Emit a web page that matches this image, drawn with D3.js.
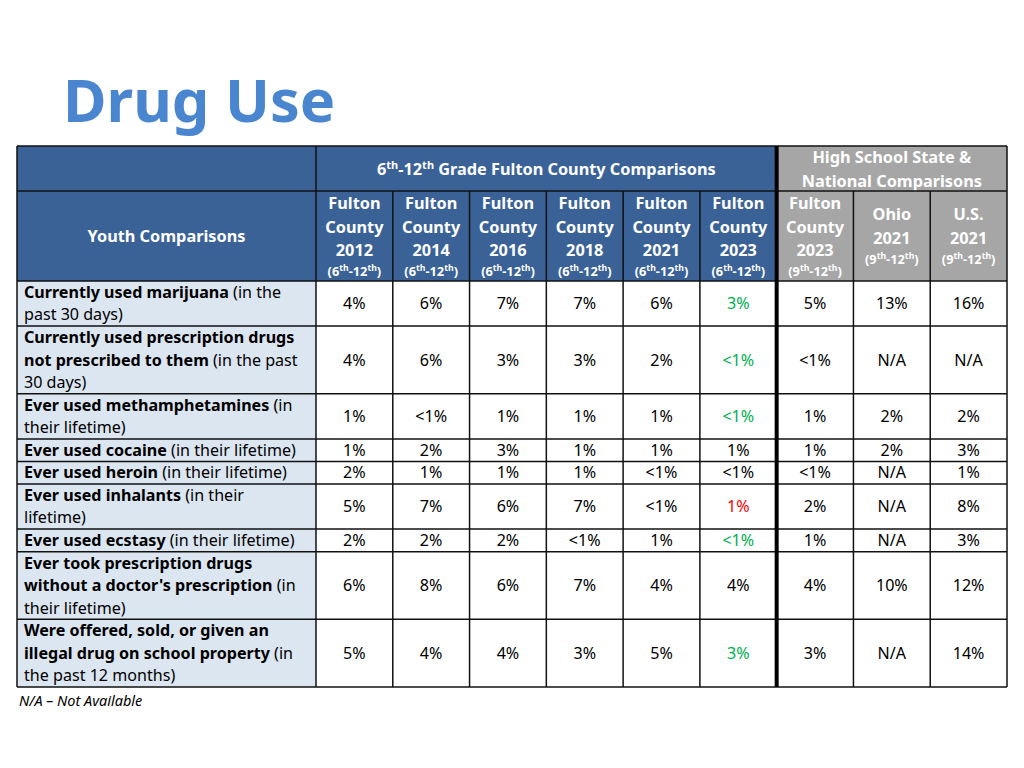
<!DOCTYPE html>
<html><head><meta charset="utf-8">
<script src="https://cdn.jsdelivr.net/npm/d3@7"></script>
<style>
html,body{margin:0;padding:0;background:#fff;}
svg{display:block;font-family:"Noto Sans","Open Sans",sans-serif;}
</style></head>
<body>
<svg id="chart" width="1024" height="768"></svg>
<script>
// ---------- DATA ----------
const titleText = "Drug Use";
const groupLeft = "6th-12th Grade Fulton County Comparisons";
const groupRight = ["High School State &", "National Comparisons"];
const stubHeader = "Youth Comparisons";
const footnote = "N/A – Not Available";

const columnKeys = ["fc2012","fc2014","fc2016","fc2018","fc2021","fc2023","fc2023hs","ohio2021","us2021"];
const columnTitles = [
  ["Fulton","County","2012"],["Fulton","County","2014"],["Fulton","County","2016"],
  ["Fulton","County","2018"],["Fulton","County","2021"],["Fulton","County","2023"],
  ["Fulton","County","2023"],["Ohio","2021"],["U.S.","2021"]
];
const columnGrades = [["6","12"],["6","12"],["6","12"],["6","12"],["6","12"],["6","12"],["9","12"],["9","12"],["9","12"]];

// row labels: each line is a list of [bold?, text]
const rowLabels = [
  [[[1,"Currently used marijuana"],[0," (in the"]],[[0,"past 30 days)"]]],
  [[[1,"Currently used prescription drugs"]],[[1,"not prescribed to them"],[0," (in the past"]],[[0,"30 days)"]]],
  [[[1,"Ever used methamphetamines"],[0," (in"]],[[0,"their lifetime)"]]],
  [[[1,"Ever used cocaine"],[0," (in their lifetime)"]]],
  [[[1,"Ever used heroin"],[0," (in their lifetime)"]]],
  [[[1,"Ever used inhalants"],[0," (in their"]],[[0,"lifetime)"]]],
  [[[1,"Ever used ecstasy"],[0," (in their lifetime)"]]],
  [[[1,"Ever took prescription drugs"]],[[1,"without a doctor's prescription"],[0," (in"]],[[0,"their lifetime)"]]],
  [[[1,"Were offered, sold, or given an"]],[[1,"illegal drug on school property"],[0," (in"]],[[0,"the past 12 months)"]]]
];

const fc2012   = ["4%","4%","1%","1%","2%","5%","2%","6%","5%"];
const fc2014   = ["6%","6%","<1%","2%","1%","7%","2%","8%","4%"];
const fc2016   = ["7%","3%","1%","3%","1%","6%","2%","6%","4%"];
const fc2018   = ["7%","3%","1%","1%","1%","7%","<1%","7%","3%"];
const fc2021   = ["6%","2%","1%","1%","<1%","<1%","1%","4%","5%"];
const fc2023   = ["3%","<1%","<1%","1%","<1%","1%","<1%","4%","3%"];
const fc2023hs = ["5%","<1%","1%","1%","<1%","2%","1%","4%","3%"];
const ohio2021 = ["13%","N/A","2%","2%","N/A","N/A","N/A","10%","N/A"];
const us2021   = ["16%","N/A","2%","3%","1%","8%","3%","12%","14%"];
// change status of the 2023 county values
const fc2023Status = ["better","better","better","","","worse","better","","better"];

// ---------- RENDER ----------
const values = {fc2012,fc2014,fc2016,fc2018,fc2021,fc2023,fc2023hs,ohio2021,us2021};
const statusColor = {better:"#00B050", worse:"#FF0000", "":"#000"};
const BLUE = "#3A6297", GRAY = "#A6A6A6", STUB = "#DCE6F1";
const FS = 16.1, HFS = 16.3;

const svg = d3.select("#chart");
const tableL = 17, stubR = 316, tableR = 1007;
const h1Top = 146, h2Top = 191, bodyTop = 281, bodyBot = 687;

const x = d3.scaleBand().domain(columnKeys).range([stubR, tableR]).paddingInner(0).paddingOuter(0);
const rowLines = rowLabels.map(r => r.length);
const cum = d3.cumsum([0, ...rowLines]);
const y = d3.scaleLinear().domain([0, d3.sum(rowLines)]).range([bodyTop, bodyBot]);
const lineH = y(1) - y(0);
const divX = x("fc2023hs");

// Title
svg.append("text").attr("x", 63).attr("y", 122)
  .attr("font-size", 59.5).attr("font-weight", 700).attr("fill", "#4A86D0")
  .text(titleText);

// header backgrounds
svg.append("rect").attr("x", tableL).attr("y", h1Top).attr("width", divX - tableL).attr("height", bodyTop - h1Top).attr("fill", BLUE);
svg.append("rect").attr("x", divX).attr("y", h1Top).attr("width", tableR - divX).attr("height", bodyTop - h1Top).attr("fill", GRAY);
// stub background
svg.append("rect").attr("x", tableL).attr("y", bodyTop).attr("width", stubR - tableL).attr("height", bodyBot - bodyTop).attr("fill", STUB);

// helper for "6th-12th" style text
function gradeText(sel, a, size) {
  const sup = size * 0.68, d = size * 0.36;
  sel.append("tspan").text("(" + a);
  sel.append("tspan").attr("font-size", sup).attr("dy", -d).text("th");
  sel.append("tspan").attr("dy", d).text("-12");
  sel.append("tspan").attr("font-size", sup).attr("dy", -d).text("th");
  sel.append("tspan").attr("dy", d).text(")");
}

// group header left
const gl = svg.append("text").attr("x", (stubR + divX) / 2).attr("y", 175)
  .attr("text-anchor", "middle").attr("fill", "#fff").attr("font-weight", 700).attr("font-size", HFS);
gl.append("tspan").text("6");
gl.append("tspan").attr("font-size", 11).attr("dy", -6).text("th");
gl.append("tspan").attr("dy", 6).text("-12");
gl.append("tspan").attr("font-size", 11).attr("dy", -6).text("th");
gl.append("tspan").attr("dy", 6).text(" Grade Fulton County Comparisons");

// group header right
groupRight.forEach((t, i) => {
  svg.append("text").attr("x", (divX + tableR) / 2).attr("y", 163 + i * 24)
    .attr("text-anchor", "middle").attr("fill", "#fff").attr("font-weight", 700).attr("font-size", HFS).text(t);
});

// stub header
svg.append("text").attr("x", (tableL + stubR) / 2).attr("y", 242)
  .attr("text-anchor", "middle").attr("fill", "#fff").attr("font-weight", 700).attr("font-size", HFS).text(stubHeader);

// column headers
columnKeys.forEach((k, i) => {
  const cx = x(k) + x.bandwidth() / 2;
  const lines = columnTitles[i];
  const startY = lines.length === 3 ? 209 : 220;
  lines.forEach((t, j) => {
    svg.append("text").attr("x", cx).attr("y", startY + j * 23.5)
      .attr("text-anchor", "middle").attr("fill", "#fff").attr("font-weight", 700).attr("font-size", HFS).text(t);
  });
  const gy = lines.length === 3 ? 276 : 264;
  const g = svg.append("text").attr("x", cx).attr("y", gy).attr("text-anchor", "middle")
    .attr("fill", "#fff").attr("font-weight", 700).attr("font-size", 12.8);
  gradeText(g, columnGrades[i][0], 12.8);
});

// row labels
rowLabels.forEach((lines, r) => {
  lines.forEach((segs, j) => {
    const t = svg.append("text").attr("x", 24).attr("y", y(cum[r] + j) + lineH / 2 + 5.6)
      .attr("font-size", FS).attr("fill", "#000");
    segs.forEach(s => t.append("tspan").attr("font-weight", s[0] ? 700 : 400).text(s[1]));
  });
});

// data cells
columnKeys.forEach(k => {
  values[k].forEach((v, r) => {
    const cy = (y(cum[r]) + y(cum[r + 1])) / 2;
    const col = k === "fc2023" ? statusColor[fc2023Status[r]] : "#000";
    svg.append("text").attr("x", x(k) + x.bandwidth() / 2).attr("y", cy + 5.6)
      .attr("text-anchor", "middle").attr("font-size", FS).attr("fill", col).text(v);
  });
});

// grid lines
const grid = svg.append("g").attr("stroke", "#111").attr("stroke-width", 1.5).attr("fill", "none");
[h1Top, h2Top, bodyBot].forEach(yy => grid.append("line").attr("x1", tableL).attr("x2", tableR).attr("y1", yy).attr("y2", yy));
cum.slice(0, -1).forEach(c => grid.append("line").attr("x1", tableL).attr("x2", tableR).attr("y1", y(c)).attr("y2", y(c)));
grid.append("line").attr("x1", tableL).attr("x2", tableL).attr("y1", h1Top).attr("y2", bodyBot);
grid.append("line").attr("x1", tableR).attr("x2", tableR).attr("y1", h1Top).attr("y2", bodyBot);
grid.append("line").attr("x1", stubR).attr("x2", stubR).attr("y1", h1Top).attr("y2", bodyBot);
columnKeys.slice(1).forEach(k => {
  if (k === "fc2023hs") return;
  grid.append("line").attr("x1", x(k)).attr("x2", x(k)).attr("y1", h2Top).attr("y2", bodyBot);
});
grid.append("line").attr("x1", divX).attr("x2", divX).attr("y1", h1Top).attr("y2", bodyBot).attr("stroke-width", 4).attr("stroke", "#000");

// footnote
svg.append("text").attr("x", 19).attr("y", 706).attr("font-size", 14.5).attr("font-style", "italic")
  .attr("fill", "#000").text(footnote);
</script>
</body></html>
